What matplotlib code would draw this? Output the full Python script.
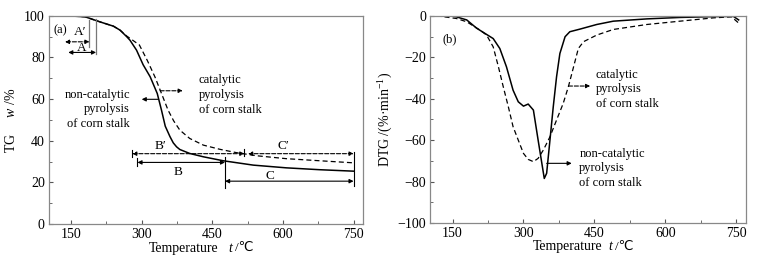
import matplotlib
matplotlib.use("Agg")
import matplotlib.pyplot as plt
from matplotlib.ticker import MultipleLocator, FixedLocator

plt.rcParams["font.family"] = ["Liberation Serif", "DejaVu Sans"]
plt.rcParams["mathtext.fontset"] = "custom"
plt.rcParams["mathtext.it"] = "Liberation Serif:italic"
plt.rcParams["mathtext.rm"] = "Liberation Serif"

# TG curves (temperature in C, mass in %)
tg_t_non = [103, 150, 180, 211, 240, 254, 268, 275, 289, 303, 318, 333, 342, 350, 360, 367, 374, 381, 402, 431, 473, 537, 607, 678, 750]
tg_w_non = [100, 99.9, 99.5, 97.1, 95.0, 93.1, 90.0, 88.3, 83.5, 76.5, 70.7, 62.7, 54.7, 47.0, 42.0, 39.0, 37.1, 35.8, 33.9, 32.3, 30.4, 28.3, 27.0, 26.1, 25.4]
tg_t_cat = [103, 150, 180, 211, 240, 254, 268, 280, 295, 312, 328, 342, 356, 368, 381, 402, 431, 466, 501, 544, 607, 678, 750]
tg_w_cat = [100, 99.9, 99.5, 97.1, 95.0, 93.1, 90.3, 88.4, 86.0, 78.5, 70.7, 62.7, 54.7, 49.5, 45.1, 41.1, 37.9, 35.9, 34.3, 32.8, 31.4, 30.4, 29.4]

# DTG curves (%/min)
dtg_t_non = [116, 137, 158, 180, 201, 222, 236, 250, 264, 278, 289, 300, 310, 321, 331, 340, 344, 349, 356, 363, 370, 377, 388, 398, 420, 455, 490, 561, 631, 702, 744, 755]
dtg_v_non = [0, 0.3, -0.5, -2, -6, -9, -11, -15.8, -24.6, -35.9, -41.5, -43.6, -42.6, -45.5, -60, -72.8, -78.5, -76, -60, -43.9, -29.4, -18.2, -10.1, -7.7, -6.4, -4.2, -2.6, -1.5, -0.8, -0.4, -0.3, -2]
dtg_t_cat = [116, 158, 180, 208, 222, 236, 247, 257, 268, 278, 289, 300, 310, 321, 331, 342, 356, 370, 384, 395, 406, 416, 427, 455, 490, 561, 631, 702, 740, 755]
dtg_v_cat = [0, -1.3, -2.9, -6.9, -9.3, -15, -24.6, -34, -43.9, -53.5, -60, -66.4, -69.3, -70.4, -68.8, -64.8, -58.4, -50.3, -42.3, -34.2, -24.6, -15.8, -12.5, -9.3, -6.6, -4.2, -2.6, -1.0, -0.5, -3.5]

x_ticks = [150, 300, 450, 600, 750]
tg_ticks = [0, 20, 40, 60, 80, 100]
dtg_ticks = [-100, -80, -60, -40, -20, 0]

FS = 9        # annotation text
TFS = 10      # tick labels and axis labels
DASH = (0, (4, 2.5))

fig = plt.figure(figsize=(7.65, 2.63), dpi=100)
ax1 = fig.add_axes([0.064, 0.148, 0.4105, 0.792])
ax2 = fig.add_axes([0.5625, 0.152, 0.4123, 0.788])


def style_axes(ax, xl):
    ax.set_xlim(103, 770)
    ax.xaxis.set_major_locator(FixedLocator(x_ticks))
    ax.xaxis.set_minor_locator(MultipleLocator(75))
    ax.yaxis.set_minor_locator(MultipleLocator(10))
    ax.tick_params(which="both", direction="in", top=False, right=False,
                   labelsize=TFS, color="#555555", pad=3)
    ax.tick_params(which="major", length=3)
    ax.tick_params(which="minor", length=2)
    for s in ax.spines.values():
        s.set_color("#888888")
        s.set_linewidth(0.9)
    # x label built from pieces so the italic t and the ℃ sign both render
    ax.text(xl[0], -0.115, "Temperature", transform=ax.transAxes, fontsize=TFS,
            ha="center", va="center")
    ax.text(xl[1], -0.115, "t", transform=ax.transAxes, fontsize=TFS,
            style="italic", ha="center", va="center")
    ax.text(xl[2], -0.115, "/℃", transform=ax.transAxes, fontsize=TFS - 0.5,
            ha="left", va="center")


def darrow(ax, x0, x1, y, dashed=False):
    ls = "--" if dashed else "-"
    ax.annotate("", xy=(x0, y), xytext=(x1, y),
                arrowprops=dict(arrowstyle="<|-|>", color="black", lw=0.8, linestyle=ls,
                                mutation_scale=6, shrinkA=0, shrinkB=0))


def arrow(ax, x0, x1, y, dashed=False):
    ls = "--" if dashed else "-"
    ax.annotate("", xy=(x1, y), xytext=(x0, y),
                arrowprops=dict(arrowstyle="-|>", color="black", lw=0.8, linestyle=ls,
                                mutation_scale=6, shrinkA=0, shrinkB=0))


# ---- panel (a) TG ----
style_axes(ax1, (0.428, 0.576, 0.592))
ax1.set_ylim(0, 100)
ax1.yaxis.set_major_locator(FixedLocator(tg_ticks))
ax1.plot(tg_t_non, tg_w_non, color="black", lw=1.1)
ax1.plot(tg_t_cat, tg_w_cat, color="black", lw=0.9, linestyle=DASH)
ax1.set_ylabel(r"TG     $w$ /%", fontsize=TFS, labelpad=4)
ax1.text(112, 93, "(a)", fontsize=FS, va="center")

# stage markers A / A'
ax1.plot([189, 189], [85, 98], color="#777777", lw=0.9)
ax1.plot([203, 203], [81.5, 98.4], color="#777777", lw=0.9)
darrow(ax1, 137, 189, 87.5, dashed=True)
darrow(ax1, 144, 203, 82.4)
ax1.text(169, 92.2, "A′", fontsize=FS + 0.5, ha="center", va="center")
ax1.text(173, 84.6, "A", fontsize=FS + 0.5, ha="center", va="center")

# B / B' / C / C'
ax1.plot([280, 280], [32, 35.5], color="black", lw=0.8)
ax1.plot([291, 291], [28, 31.5], color="black", lw=0.8)
ax1.plot([518, 518], [32.5, 36], color="black", lw=0.8)
ax1.plot([477, 477], [17.4, 32.3], color="black", lw=0.8)
ax1.plot([750, 750], [18.3, 34.5], color="black", lw=0.8)
darrow(ax1, 280, 518, 33.8, dashed=True)
darrow(ax1, 291, 477, 29.6)
darrow(ax1, 526, 750, 33.8, dashed=True)
darrow(ax1, 477, 750, 20.6)
ax1.text(339, 37.5, "B′", fontsize=FS + 0.5, ha="center", va="center")
ax1.text(378, 25.1, "B", fontsize=FS + 0.5, ha="center", va="center")
ax1.text(600, 37.5, "C′", fontsize=FS + 0.5, ha="center", va="center")
ax1.text(572, 23.2, "C", fontsize=FS + 0.5, ha="center", va="center")

ax1.text(421, 62, "catalytic\npyrolysis\nof corn stalk", fontsize=FS,
         ha="left", va="center", linespacing=1.3)
arrow(ax1, 339, 387, 64, dashed=True)
ax1.text(275, 55.1, "non-catalytic\npyrolysis\nof corn stalk", fontsize=FS,
         ha="right", va="center", linespacing=1.3, multialignment="right")
arrow(ax1, 335, 300, 59.9)

# ---- panel (b) DTG ----
style_axes(ax2, (0.436, 0.570, 0.584))
ax2.set_ylim(-100, 0)
ax2.yaxis.set_major_locator(FixedLocator(dtg_ticks))
ax2.set_yticklabels([str(v).replace("-", "−") for v in dtg_ticks])
ax2.plot(dtg_t_non, dtg_v_non, color="black", lw=1.1)
ax2.plot(dtg_t_cat, dtg_v_cat, color="black", lw=0.9, linestyle=DASH)
ax2.set_ylabel(r"DTG /(%·min$^{-1}$)", fontsize=TFS, labelpad=2)
ax2.text(144, -11.4, "(b)", fontsize=FS, ha="center", va="center")

ax2.text(453, -35.5, "catalytic\npyrolysis\nof corn stalk", fontsize=FS,
         ha="left", va="center", linespacing=1.3)
arrow(ax2, 395, 441, -33.9, dashed=True)
ax2.text(418, -73.6, "non-catalytic\npyrolysis\nof corn stalk", fontsize=FS,
         ha="left", va="center", linespacing=1.3)
arrow(ax2, 349, 402, -71.2)

fig.savefig("out.png", dpi=100)
